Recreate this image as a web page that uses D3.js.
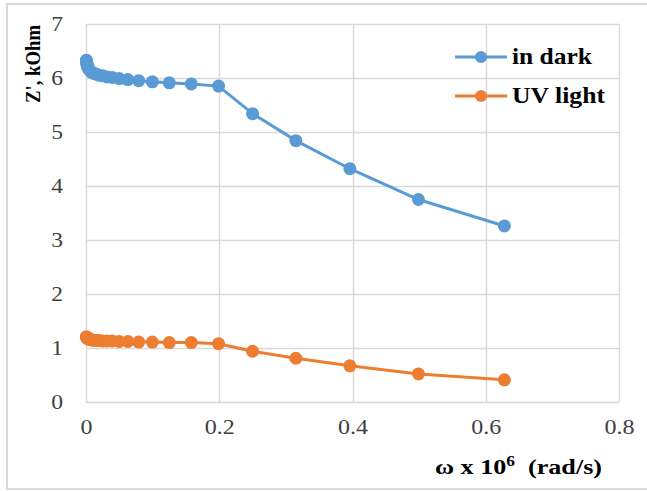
<!DOCTYPE html>
<html><head><meta charset="utf-8">
<script src="https://cdn.jsdelivr.net/npm/d3@7"></script>
<style>html,body{margin:0;padding:0;background:#fff;}svg{display:block;}</style>
</head><body>
<svg id="chart" width="647" height="491"></svg>
<script>
const omega = [0.628, 0.499, 0.396, 0.315, 0.250, 0.199, 0.158, 0.125, 0.0996, 0.0791, 0.0628, 0.0499, 0.0396, 0.0315, 0.0250, 0.0199, 0.0158, 0.0125, 0.00996, 0.00791, 0.00628, 0.00499, 0.00396, 0.00315, 0.00250, 0.00199, 0.00158, 0.00125, 0.000996, 0.000791, 0.000628];
const inDark = [3.26, 3.75, 4.32, 4.84, 5.34, 5.85, 5.89, 5.91, 5.93, 5.95, 5.97, 5.99, 6.01, 6.02, 6.04, 6.05, 6.07, 6.08, 6.10, 6.11, 6.13, 6.15, 6.17, 6.19, 6.21, 6.23, 6.25, 6.27, 6.29, 6.31, 6.33];
const uvLight = [0.41, 0.52, 0.67, 0.81, 0.94, 1.08, 1.10, 1.10, 1.11, 1.11, 1.12, 1.12, 1.13, 1.13, 1.13, 1.14, 1.14, 1.14, 1.15, 1.15, 1.16, 1.16, 1.17, 1.17, 1.18, 1.18, 1.19, 1.19, 1.20, 1.20, 1.21];
const seriesNames = ["in dark", "UV light"];
const seriesColors = ["#5B9BD5", "#ED7D31"];
const xTicks = [0, 0.2, 0.4, 0.6, 0.8];
const yTicks = [0, 1, 2, 3, 4, 5, 6, 7];

const svg = d3.select("#chart");
const x = d3.scaleLinear().domain([0, 0.8]).range([86, 619]);
const y = d3.scaleLinear().domain([0, 7]).range([402, 24]);
const font = "Liberation Serif";

// chart area border
svg.append("rect").attr("x", 7).attr("y", 4).attr("width", 660).attr("height", 485)
  .attr("fill", "#fff").attr("stroke", "#d9d9d9").attr("stroke-width", 2);

// gridlines
const grid = svg.append("g");
grid.selectAll("line.h").data(yTicks).join("line")
  .attr("x1", x(0)).attr("x2", x(0.8))
  .attr("y1", d => Math.round(y(d)) + 0.5).attr("y2", d => Math.round(y(d)) + 0.5)
  .attr("stroke", "#d9d9d9").attr("stroke-width", 1.5);
grid.selectAll("line.v").data(xTicks).join("line")
  .attr("y1", y(0)).attr("y2", y(7))
  .attr("x1", d => Math.round(x(d)) + 0.5).attr("x2", d => Math.round(x(d)) + 0.5)
  .attr("stroke", "#d9d9d9").attr("stroke-width", 1.5);

// axes (tick labels only)
const xAxis = svg.append("g").attr("transform", `translate(0,${y(0)})`)
  .call(d3.axisBottom(x).tickValues(xTicks).tickSize(0).tickPadding(18).tickFormat(d3.format("")));
const yAxis = svg.append("g").attr("transform", `translate(${x(0)},0)`)
  .call(d3.axisLeft(y).tickValues(yTicks).tickSize(0).tickPadding(23).tickFormat(d3.format("d")));
[xAxis, yAxis].forEach(a => {
  a.select(".domain").remove();
  a.attr("font-family", null).attr("font-size", null);
});
xAxis.selectAll("text").style("font-family", font).style("font-size", "20px").attr("fill", "#404040")
  .attr("transform", "scale(1.2,1)");
yAxis.selectAll("text").style("font-family", font).style("font-size", "20.5px").attr("fill", "#404040")
  .attr("x", -23 / 1.15).attr("transform", "scale(1.15,1)");

// lines and markers
const seriesData = [inDark, uvLight];
const line = d3.line().x(d => x(d[0])).y(d => y(d[1]));
seriesData.forEach((vals, i) => {
  const pts = omega.map((o, k) => [o, vals[k]]);
  svg.append("path").datum(pts).attr("d", line)
    .attr("fill", "none").attr("stroke", seriesColors[i]).attr("stroke-width", 3);
  svg.append("g").selectAll("circle").data(pts).join("circle")
    .attr("cx", d => x(d[0])).attr("cy", d => y(d[1])).attr("r", 6.5)
    .attr("fill", seriesColors[i]);
});

// legend
const legBase = [64, 103];
const legWidth = [80, 93];
const leg = svg.append("g");
seriesNames.forEach((name, i) => {
  const ly = legBase[i] - 7;
  leg.append("line").attr("x1", 455).attr("x2", 507).attr("y1", ly).attr("y2", ly)
    .attr("stroke", seriesColors[i]).attr("stroke-width", 3);
  leg.append("circle").attr("cx", 481).attr("cy", ly).attr("r", 6).attr("fill", seriesColors[i]);
  leg.append("text").attr("x", 512).attr("y", legBase[i]).text(name)
    .attr("textLength", legWidth[i]).attr("lengthAdjust", "spacingAndGlyphs")
    .style("font-family", font).style("font-size", "23px").style("font-weight", "bold").attr("fill", "#000");
});

// axis titles
svg.append("text").attr("transform", "translate(40,103) rotate(-90)")
  .attr("textLength", 78).attr("lengthAdjust", "spacingAndGlyphs")
  .style("font-family", font).style("font-size", "20px")
  .style("font-weight", "bold").attr("fill", "#000").text("Z', kOhm");
const xt = svg.append("text").attr("x", 435).attr("y", 474)
  .attr("textLength", 167).attr("lengthAdjust", "spacingAndGlyphs")
  .style("font-family", font).style("font-size", "21px").style("font-weight", "bold").attr("fill", "#000");
xt.append("tspan").text("ω x 10");
xt.append("tspan").attr("dy", -8).style("font-size", "14px").text("6");
xt.append("tspan").attr("dy", 8).text("\u00a0 (rad/s)");
</script>
</body></html>
